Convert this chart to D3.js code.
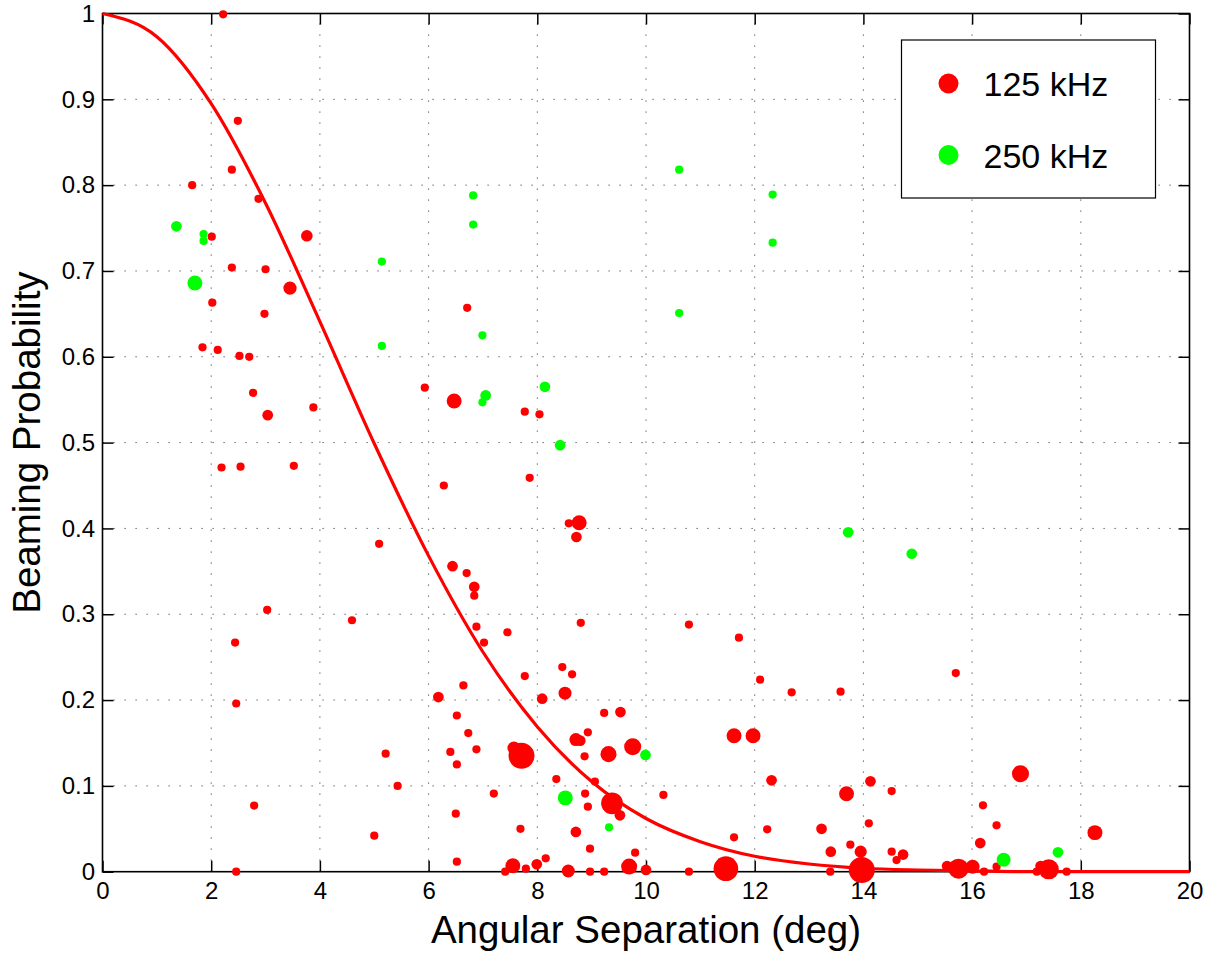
<!doctype html>
<html>
<head>
<script src="https://d3js.org/d3.v7.min.js"></script>
<style>
body { margin: 0; background: #fff; }
text { font-family: "Liberation Sans", Arial, Helvetica, sans-serif; fill: #000; }
</style>
</head>
<body>
<script>
// ---- data ----
// 125 kHz detections: angle (deg), probability, weight (marker size)
var angle125 = [2.22,2.49,2.38,1.65,2.87,2.01,3.76,2.38,3.00,3.45,
  2.02,2.98,1.84,2.12,2.52,2.70,2.77,3.04,3.88,2.19,2.54,3.52,5.09,
  3.03,4.59,2.44,2.46,5.21,5.43,2.79,5.00,2.46,
  6.71,5.93,6.47,7.77,8.04,7.86,6.28,8.58,8.77,8.72,6.44,6.70,6.84,
  6.84,8.80,10.79,6.88,7.45,7.02,8.46,8.64,7.77,6.64,6.18,8.09,8.51,6.52,9.23,9.53,
  6.73,8.93,8.71,8.79,6.40,6.88,6.52,7.57,7.71,8.87,9.31,9.755,8.35,9.06,8.88,7.20,
  9.375,8.93,9.52,10.32,6.50,8.71,7.69,8.97,9.80,8.155,6.52,7.99,7.55,7.41,7.79,8.57,
  8.97,9.23,9.69,10.00,10.79,
  11.71,12.10,12.68,13.58,15.70,11.62,11.97,12.31,14.13,13.69,14.52,16.89,16.20,16.45,
  18.26,11.62,12.23,13.23,14.10,13.40,13.76,13.95,14.52,14.73,14.61,16.15,16.45,11.47,
  13.39,13.97,15.54,15.75,16.01,16.22,17.19,17.26,17.41,17.74];
var prob125 = [0.999,0.875,0.818,0.800,0.784,0.740,0.741,0.704,0.702,0.680,
  0.663,0.650,0.611,0.608,0.601,0.600,0.558,0.532,0.541,0.471,0.472,0.473,0.382,
  0.305,0.293,0.267,0.196,0.1375,0.100,0.077,0.042,0.0,
  0.657,0.564,0.5485,0.536,0.533,0.459,0.450,0.406,0.4067,0.390,0.356,0.348,0.332,
  0.3216,0.290,0.288,0.2855,0.279,0.267,0.2385,0.230,0.228,0.217,0.2035,0.2016,0.208,0.182,0.185,0.186,
  0.1616,0.1624,0.154,0.1527,0.1395,0.1426,0.125,0.144,0.135,0.1345,0.137,0.1457,0.108,0.105,0.091,0.091,
  0.0797,0.0757,0.0657,0.0894,0.0676,0.0463,0.050,0.0268,0.0222,0.0156,0.0117,0.0086,0.007,0.0,0.0035,0.0008,
  0.0,0.0,0.006,0.002,0.0,
  0.2727,0.2237,0.209,0.2097,0.2315,0.1585,0.1585,0.1065,0.1053,0.0909,0.094,0.1142,0.0774,0.054,
  0.0455,0.040,0.0494,0.050,0.0564,0.0233,0.0315,0.0233,0.0233,0.020,0.0136,0.0334,0.0058,0.0035,
  0.0,0.002,0.0066,0.0035,0.0058,0.0,0.0,0.0066,0.0028,0.0];
var weight125 = [1,1,1,1,1,1,2,1,1,2.6,
  1,1,1,1,1,1,1,1.7,1,1,1,1,1,
  1,1,1,1,1,1,1,1,1,
  1,1,3.3,1,1,1,1,1,3.3,1.7,1.7,1,1.7,
  1,1,1,1,1,1,1,1,1,1,1.7,1.7,2.5,1,1,1.7,
  1,1,2.5,1.7,1,1,1,2.5,10,1,3.8,4.3,1,1,1,1,
  7,1,1.7,1,1,1.7,1,1,1,1,1,1.7,3.3,1,1,2.5,
  1,1,3.8,1.7,1,
  1,1,1,1,1,3.3,3.3,1.7,1.7,3.3,1,4.3,1,1,
  3.3,1,1,1.7,1,1.7,1,2.2,1,1.7,1,1.7,1,9,
  1,10,1.7,6,2.9,1,1,1.7,6,1];

// 250 kHz detections
var angle250 = [1.36,1.86,1.86,5.14,1.70,5.14,6.82,6.82,10.61,12.33,12.33,6.99,
  10.61,7.05,6.99,8.14,8.42,13.72,14.89,9.99,8.515,9.32,16.58,17.58];
var prob250 = [0.752,0.743,0.735,0.711,0.686,0.6126,0.788,0.754,0.818,0.789,0.733,0.625,
  0.651,0.555,0.547,0.565,0.497,0.3955,0.3705,0.136,0.086,0.0517,0.014,0.0226];
var weight250 = [1.7,1,1,1,3.3,1,1,1,1,1,1,1,
  1,1.7,1,1.7,1.7,1.7,1.7,1.7,3.3,1,2.9,1.7];

// beam model curve read at whole degrees
var curveAngle = [0,1,2,3,4,5,6,7,8,9,10,11,12,13,14,15,16,17,18,19,20];
var curveProb = [1.000,0.973,0.895,0.779,0.641,0.499,0.368,0.256,0.169,0.105,0.062,
  0.035,0.018,0.009,0.004,0.002,0.001,0.000,0,0,0];

var xTicks = [0,2,4,6,8,10,12,14,16,18,20];
var yTicks = [0,0.1,0.2,0.3,0.4,0.5,0.6,0.7,0.8,0.9,1];
var yTickLabels = ['0','0.1','0.2','0.3','0.4','0.5','0.6','0.7','0.8','0.9','1'];
var seriesNames = ['125 kHz','250 kHz'];
var seriesColors = ['#ff0000','#00ff00'];

// ---- layout ----
var W = 1210, H = 953;
var margin = {left: 102.5, top: 13.5, right: 20.5, bottom: 81.3};
var pw = W - margin.left - margin.right, ph = H - margin.top - margin.bottom;

var svg = d3.select('body').append('svg').attr('width', W).attr('height', H);
var g = svg.append('g').attr('transform', 'translate(' + margin.left + ',' + margin.top + ')');

var x = d3.scaleLinear().domain([0, 20]).range([0, pw]);
var y = d3.scaleLinear().domain([0, 1]).range([ph, 0]);
var r = d3.scaleSqrt().domain([0, 10]).range([0, 13]);

// dotted grid
var grid = g.append('g').attr('stroke', '#444').attr('stroke-width', 1).attr('stroke-dasharray', '1.2,9.8');
grid.selectAll('.vg').data(xTicks.slice(1, -1)).enter().append('line')
  .attr('x1', function(d){return x(d);}).attr('x2', function(d){return x(d);})
  .attr('y1', ph).attr('y2', 0);
grid.selectAll('.hg').data(yTicks.slice(1, -1)).enter().append('line')
  .attr('y1', function(d){return y(d);}).attr('y2', function(d){return y(d);})
  .attr('x1', 0).attr('x2', pw);

// axes with inward ticks on all sides
function styleAxis(sel) {
  sel.select('.domain').remove();
  sel.selectAll('.tick line').attr('stroke', '#000').attr('stroke-width', 1.5);
  sel.selectAll('.tick text').attr('font-size', 24).attr('font-family', null);
}
g.append('g').attr('transform', 'translate(0,' + ph + ')')
  .call(d3.axisBottom(x).tickValues(xTicks).tickSize(-11).tickPadding(10).tickFormat(d3.format('d')))
  .call(styleAxis);
g.append('g')
  .call(d3.axisLeft(y).tickValues(yTicks).tickSize(-11).tickPadding(7.5)
    .tickFormat(function(d, i){return yTickLabels[i];}))
  .call(styleAxis);
g.append('g').call(d3.axisTop(x).tickValues(xTicks).tickSize(-11).tickFormat('')).call(styleAxis);
g.append('g').attr('transform', 'translate(' + pw + ',0)')
  .call(d3.axisRight(y).tickValues(yTicks).tickSize(-11).tickFormat('')).call(styleAxis);

g.append('rect').attr('width', pw).attr('height', ph)
  .attr('fill', 'none').attr('stroke', '#000').attr('stroke-width', 1.6);

// model curve
var line = d3.line().curve(d3.curveMonotoneX)
  .x(function(d, i){return x(curveAngle[i]);})
  .y(function(d){return y(d);});
g.append('path').attr('d', line(curveProb))
  .attr('fill', 'none').attr('stroke', '#ff0000').attr('stroke-width', 3.2);

// scatter
function drawSeries(ang, pr, wt, color) {
  g.append('g').selectAll('circle').data(ang).enter().append('circle')
    .attr('cx', function(d){return x(d);})
    .attr('cy', function(d, i){return y(pr[i]);})
    .attr('r', function(d, i){return r(wt[i]);})
    .attr('fill', color);
}
drawSeries(angle125, prob125, weight125, seriesColors[0]);
drawSeries(angle250, prob250, weight250, seriesColors[1]);

// axis titles
svg.append('text').attr('x', margin.left + pw / 2).attr('y', 943)
  .attr('text-anchor', 'middle').attr('font-size', 38.5).text('Angular Separation (deg)');
svg.append('text').attr('transform', 'translate(40,' + (margin.top + ph / 2) + ') rotate(-90)')
  .attr('text-anchor', 'middle').attr('font-size', 38.5).text('Beaming Probability');

// legend
var leg = svg.append('g').attr('transform', 'translate(901.5,40)');
leg.append('rect').attr('width', 254).attr('height', 158)
  .attr('fill', '#fff').attr('stroke', '#000').attr('stroke-width', 1.2);
seriesNames.forEach(function(name, i) {
  var yy = 43.5 + i * 71.5;
  leg.append('circle').attr('cx', 47).attr('cy', yy).attr('r', 10).attr('fill', seriesColors[i]);
  leg.append('text').attr('x', 82).attr('y', yy + 12.5).attr('font-size', 34).text(name);
});
</script>
</body>
</html>
